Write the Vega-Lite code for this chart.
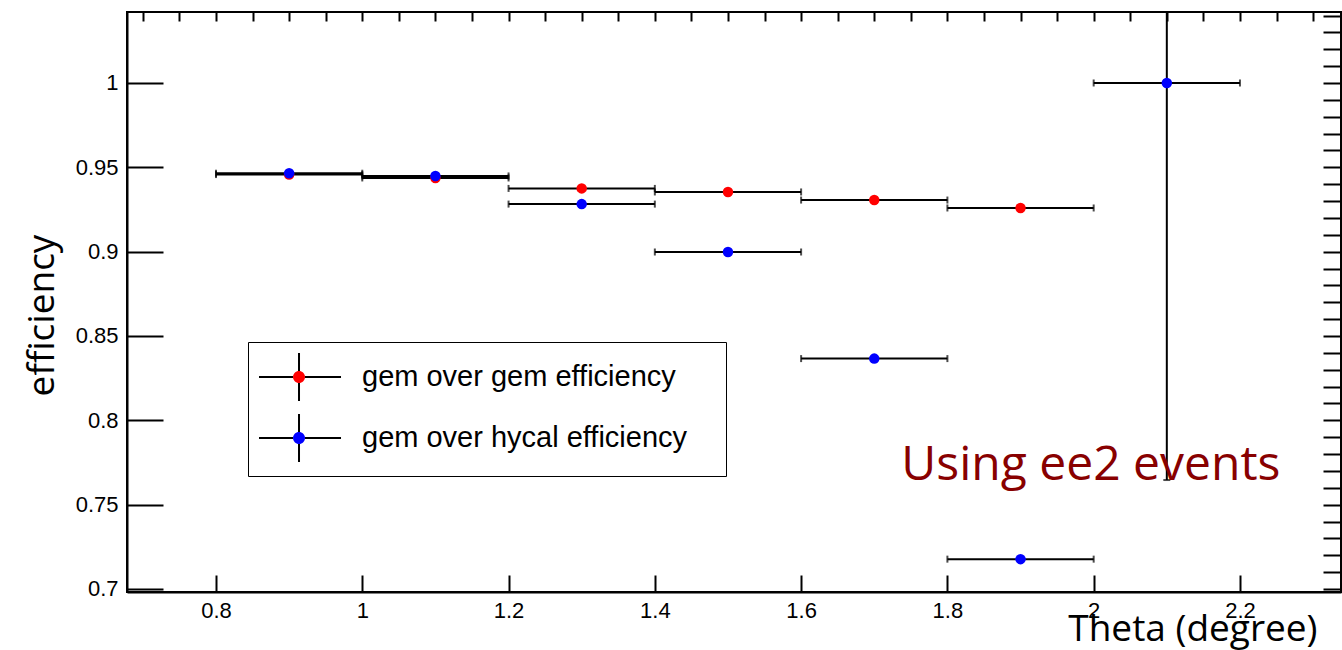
{
  "$schema": "https://vega.github.io/schema/vega-lite/v6.json",
  "width": 1214,
  "height": 580,
  "autosize": {"type": "none"},
  "padding": {"left": 127, "top": 12, "right": 1, "bottom": 58},
  "background": "white",
  "config": {
    "view": {"stroke": "black", "strokeWidth": 2},
    "axis": {
      "labelFont": "Liberation Sans", "labelFontSize": 22, "labelColor": "black",
      "tickColor": "black", "tickWidth": 2, "domainColor": "black", "domainWidth": 2,
      "grid": false, "titleFont": "Open Sans", "titleFontSize": 37, "titleFontWeight": "normal",
      "titleColor": "black", "labelFlush": false, "labelOverlap": false
    },
    "legend": {
      "orient": "none", "legendX": 121, "legendY": 330, "padding": 10, "rowPadding": 5,
      "labelOffset": 54, "symbolSize": 2304, "labelFont": "Liberation Sans", "labelFontSize": 29,
      "labelColor": "black", "labelLimit": 1000, "title": null
    }
  },
  "data": {
    "values": [
      {"series": "gem over gem efficiency", "theta": 0.9, "xlo": 0.8, "xhi": 1.0, "eff": 0.9457, "ylo": 0.9457, "yhi": 0.9457},
      {"series": "gem over gem efficiency", "theta": 1.1, "xlo": 1.0, "xhi": 1.2, "eff": 0.9437, "ylo": 0.9437, "yhi": 0.9437},
      {"series": "gem over gem efficiency", "theta": 1.3, "xlo": 1.2, "xhi": 1.4, "eff": 0.9375, "ylo": 0.9375, "yhi": 0.9375},
      {"series": "gem over gem efficiency", "theta": 1.5, "xlo": 1.4, "xhi": 1.6, "eff": 0.9354, "ylo": 0.9354, "yhi": 0.9354},
      {"series": "gem over gem efficiency", "theta": 1.7, "xlo": 1.6, "xhi": 1.8, "eff": 0.9306, "ylo": 0.9306, "yhi": 0.9306},
      {"series": "gem over gem efficiency", "theta": 1.9, "xlo": 1.8, "xhi": 2.0, "eff": 0.9259, "ylo": 0.9259, "yhi": 0.9259},
      {"series": "gem over hycal efficiency", "theta": 0.9, "xlo": 0.8, "xhi": 1.0, "eff": 0.9465, "ylo": 0.9465, "yhi": 0.9465},
      {"series": "gem over hycal efficiency", "theta": 1.1, "xlo": 1.0, "xhi": 1.2, "eff": 0.9449, "ylo": 0.9449, "yhi": 0.9449},
      {"series": "gem over hycal efficiency", "theta": 1.3, "xlo": 1.2, "xhi": 1.4, "eff": 0.9282, "ylo": 0.9282, "yhi": 0.9282},
      {"series": "gem over hycal efficiency", "theta": 1.5, "xlo": 1.4, "xhi": 1.6, "eff": 0.8998, "ylo": 0.8998, "yhi": 0.8998},
      {"series": "gem over hycal efficiency", "theta": 1.7, "xlo": 1.6, "xhi": 1.8, "eff": 0.8366, "ylo": 0.8366, "yhi": 0.8366},
      {"series": "gem over hycal efficiency", "theta": 1.9, "xlo": 1.8, "xhi": 2.0, "eff": 0.7177, "ylo": 0.7177, "yhi": 0.7177},
      {"series": "gem over hycal efficiency", "theta": 2.1, "xlo": 2.0, "xhi": 2.2, "eff": 1.0, "ylo": 0.7646, "yhi": 1.2354}
    ]
  },
  "resolve": {"axis": {"x": "independent", "y": "independent"}},
  "layer": [
    {
      "mark": {"type": "rule", "strokeWidth": 2, "clip": true},
      "encoding": {
        "x": {
          "field": "xlo", "type": "quantitative",
          "scale": {"domain": [0.67832, 2.33815], "zero": false, "nice": false},
          "axis": {
            "values": [0.8, 1, 1.2, 1.4, 1.6, 1.8, 2, 2.2], "format": "~g",
            "tickSize": -17, "labelPadding": 25, "title": "Theta (degree)",
            "titleX": 1190, "titleY": 48, "titleAlign": "right", "titleBaseline": "alphabetic", "titleAnchor": "end"
          }
        },
        "x2": {"field": "xhi"},
        "y": {
          "field": "eff", "type": "quantitative",
          "scale": {"domain": [0.69822, 1.04209], "zero": false, "nice": false},
          "axis": {
            "values": [0.7, 0.75, 0.8, 0.85, 0.9, 0.95, 1], "format": "~g",
            "tickSize": -36, "labelPadding": 45, "title": "efficiency",
            "titleX": -74, "titleY": 303, "titleAlign": "center", "titleBaseline": "alphabetic", "titleAngle": -90
          }
        },
        "stroke": {
          "field": "series", "type": "nominal",
          "scale": {"domain": ["gem over hycal efficiency", "gem over gem efficiency"], "range": ["black", "black"]},
          "legend": {
            "symbolType": "M-1,0H0.417M0.917,0H2.417M0.667,-1V-0.25M0.667,0.25V1",
            "symbolStrokeWidth": 2, "symbolFillColor": "transparent", "labelExpr": "''"
          }
        }
      }
    },
    {
      "mark": {"type": "rule", "strokeWidth": 2, "clip": true},
      "encoding": {
        "x": {"field": "theta", "type": "quantitative", "axis": null},
        "y": {"field": "ylo", "type": "quantitative", "axis": null},
        "y2": {"field": "yhi"}
      }
    },
    {
      "mark": {"type": "tick", "orient": "vertical", "size": 7, "thickness": 2, "color": "black", "clip": true},
      "encoding": {
        "x": {
          "field": "xlo", "type": "quantitative",
          "axis": {
            "values": [0.7, 0.75, 0.8, 0.85, 0.9, 0.95, 1, 1.05, 1.1, 1.15, 1.2, 1.25, 1.3, 1.35, 1.4, 1.45, 1.5, 1.55, 1.6, 1.65, 1.7, 1.75, 1.8, 1.85, 1.9, 1.95, 2, 2.05, 2.1, 2.15, 2.2, 2.25, 2.3],
            "labels": false, "domain": false, "tickSize": -9, "title": null
          }
        },
        "y": {
          "field": "eff", "type": "quantitative",
          "axis": {
            "values": [0.7, 0.71, 0.72, 0.73, 0.74, 0.75, 0.76, 0.77, 0.78, 0.79, 0.8, 0.81, 0.82, 0.83, 0.84, 0.85, 0.86, 0.87, 0.88, 0.89, 0.9, 0.91, 0.92, 0.93, 0.94, 0.95, 0.96, 0.97, 0.98, 0.99, 1, 1.01, 1.02, 1.03, 1.04],
            "labels": false, "domain": false, "tickSize": -18, "title": null
          }
        }
      }
    },
    {
      "mark": {"type": "tick", "orient": "vertical", "size": 7, "thickness": 2, "color": "black", "clip": true},
      "encoding": {
        "x": {"field": "xhi", "type": "quantitative", "axis": null},
        "y": {"field": "eff", "type": "quantitative", "axis": null}
      }
    },
    {
      "mark": {"type": "tick", "orient": "horizontal", "size": 7, "thickness": 2, "color": "black", "clip": true},
      "encoding": {
        "x": {"field": "theta", "type": "quantitative", "axis": null},
        "y": {"field": "ylo", "type": "quantitative", "axis": null}
      }
    },
    {
      "mark": {"type": "point", "filled": true, "size": 110, "opacity": 1, "clip": true},
      "encoding": {
        "x": {"field": "theta", "type": "quantitative", "axis": null},
        "y": {"field": "eff", "type": "quantitative", "axis": null},
        "fill": {
          "field": "series", "type": "nominal",
          "scale": {"domain": ["gem over gem efficiency", "gem over hycal efficiency"], "range": ["#ff0000", "#0000ff"]},
          "legend": {
            "symbolType": "M-1,0M2.417,0M0.667,-1M0.667,1M0.917,0A0.25,0.25,0,1,1,0.417,0A0.25,0.25,0,1,1,0.917,0Z",
            "symbolStrokeWidth": 2, "symbolStrokeColor": "transparent", "strokeColor": "black",
            "title": " ", "titleOrient": "right", "titlePadding": 29, "titleFontSize": 10
          }
        }
      }
    },
    {
      "data": {"values": [{"note": "Using ee2 events"}]},
      "mark": {"type": "text", "font": "Open Sans", "fontSize": 48, "color": "#880000", "align": "left", "baseline": "alphabetic"},
      "encoding": {
        "x": {"datum": 1.737, "type": "quantitative", "axis": null},
        "y": {"datum": 0.7646, "type": "quantitative", "axis": null},
        "text": {"field": "note"}
      }
    }
  ]
}
